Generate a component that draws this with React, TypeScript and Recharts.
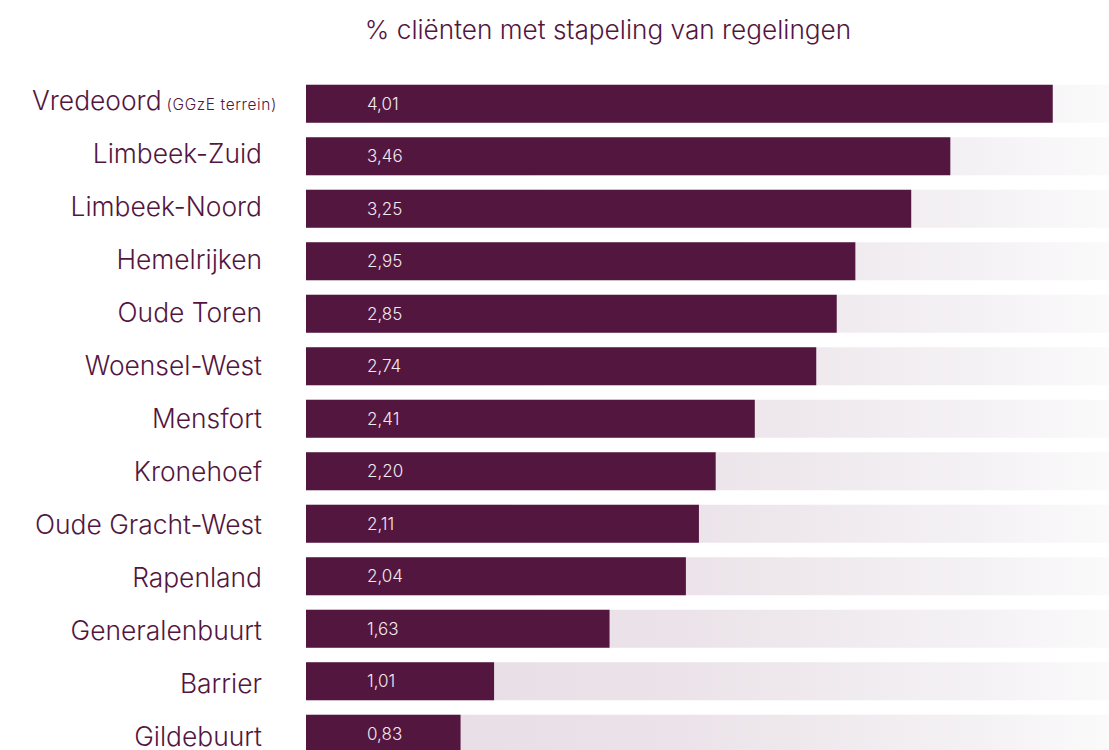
import React from 'react';
import { BarChart, Bar, XAxis, YAxis, LabelList } from 'recharts';

const categories = ['Vredeoord', 'Limbeek-Zuid', 'Limbeek-Noord', 'Hemelrijken', 'Oude Toren', 'Woensel-West', 'Mensfort', 'Kronehoef', 'Oude Gracht-West', 'Rapenland', 'Generalenbuurt', 'Barrier', 'Gildebuurt'];
const subLabels = ['(GGzE terrein)', '', '', '', '', '', '', '', '', '', '', '', ''];
const values = [4.01, 3.46, 3.25, 2.95, 2.85, 2.74, 2.41, 2.2, 2.11, 2.04, 1.63, 1.01, 0.83];
const title = '% cliënten met stapeling van regelingen';

const data = categories.map((c, i) => ({ name: c, sub: subLabels[i], value: values[i] }));

const PURPLE = '#53163f';
const FONT = 'Inter, "Open Sans", sans-serif';

const CategoryTick = (props: any) => {
  const { x, y, payload, index } = props;
  const sub = subLabels[index] || '';
  const shift = sub ? 15 : 0;
  return (
    <text x={x - 38 + shift} y={y} dy={6 + index * 0.5} textAnchor="end" fill={PURPLE} fontFamily={FONT} fontSize={26.4} fontWeight={300}>
      {payload.value}
      {sub ? <tspan fontSize={15.5} letterSpacing={0.6}>{' ' + sub}</tspan> : null}
    </text>
  );
};

const fmt = (v: any) => Number(v).toFixed(2).replace('.', ',');

export default function App() {
  return (
    <div style={{ position: 'absolute', left: 0, top: 0, width: 1109, height: 750, overflow: 'hidden', background: '#fff' }}>
      <div style={{ position: 'absolute', left: 0, top: 14, width: 1216, textAlign: 'center', color: PURPLE, fontFamily: FONT, fontSize: 26.2, fontWeight: 300 }}>
        {title}
      </div>
      <BarChart
        width={1160}
        height={770}
        data={data}
        layout="vertical"
        margin={{ top: 77.75, right: 16, bottom: 9.75, left: 0 }}
        barCategoryGap={7.25}
      >
        <defs>
          <linearGradient id="bgGrad" x1="0" y1="0" x2="1" y2="0">
            <stop offset="0%" stopColor="#e6dde4" />
            <stop offset="45%" stopColor="#ebe3e9" />
            <stop offset="80%" stopColor="#f4f1f4" />
            <stop offset="100%" stopColor="#fdfdfd" />
          </linearGradient>
        </defs>
        <XAxis type="number" domain={[0, 4.5]} hide />
        <YAxis
          type="category"
          dataKey="name"
          width={306}
          axisLine={false}
          tickLine={false}
          tick={<CategoryTick />}
          tickMargin={0}
          interval={0}
        />
        <Bar dataKey="value" fill={PURPLE} background={{ fill: 'url(#bgGrad)' }} barSize={38} isAnimationActive={false}>
          <LabelList
            dataKey="value"
            position="insideLeft"
            offset={61}
            formatter={fmt}
            fill="#f3e8ef"
            fontSize={17}
            fontWeight={300}
            fontFamily={FONT}
          />
        </Bar>
      </BarChart>
    </div>
  );
}
